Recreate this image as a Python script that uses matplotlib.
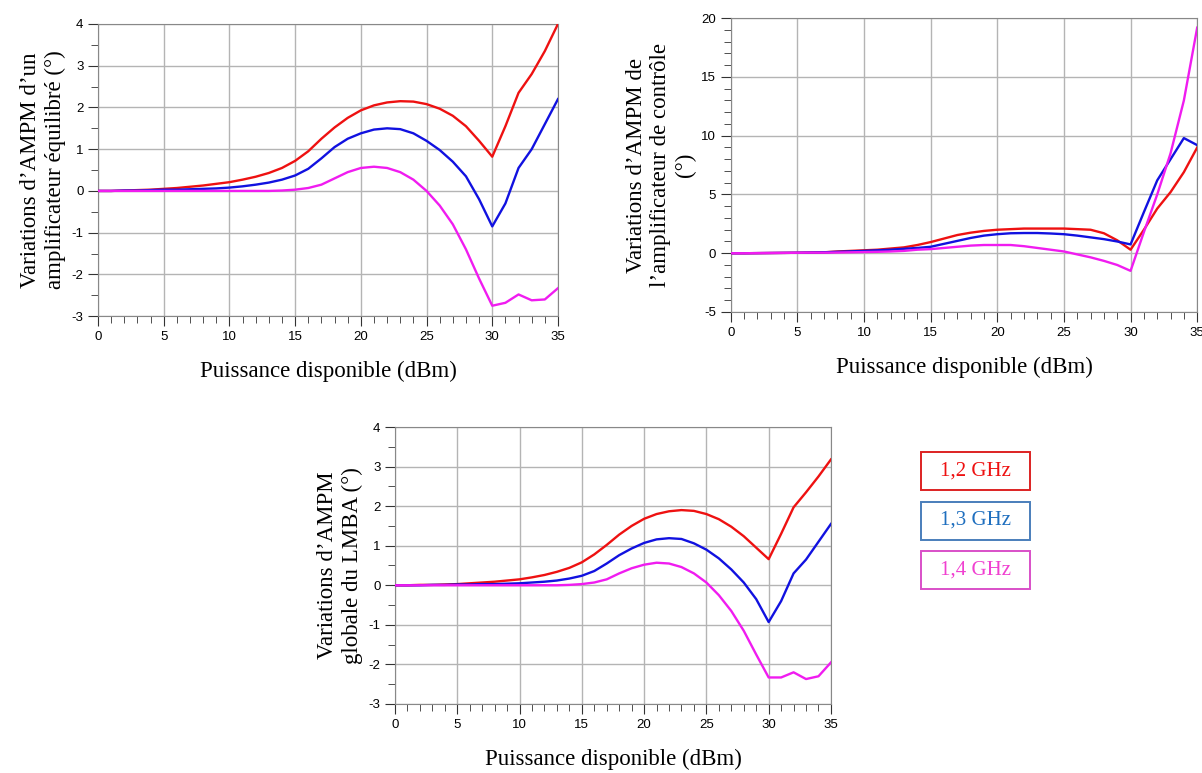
import numpy as np
import matplotlib
matplotlib.use('Agg')
from matplotlib import pyplot as plt
from matplotlib.ticker import MultipleLocator
from matplotlib.patches import Rectangle

plt.rcParams['axes.unicode_minus'] = False

# puissance disponible (dBm)
p_dbm = list(range(0, 36))

# AMPM amplificateur equilibre
eq_12 = [0, 0, 0.01, 0.02, 0.03, 0.05, 0.07, 0.1, 0.13, 0.17, 0.21, 0.27, 0.34, 0.43, 0.55, 0.72,
         0.95, 1.25, 1.52, 1.75, 1.93, 2.05, 2.12, 2.15, 2.14, 2.08, 1.97, 1.8, 1.55, 1.2, 0.82,
         1.55, 2.35, 2.8, 3.35, 4.0]
eq_13 = [0, 0, 0.01, 0.01, 0.02, 0.03, 0.03, 0.04, 0.05, 0.06, 0.08, 0.11, 0.15, 0.2, 0.27, 0.37,
         0.53, 0.78, 1.05, 1.25, 1.38, 1.47, 1.5, 1.48, 1.38, 1.2, 0.98, 0.7, 0.35, -0.2, -0.85,
         -0.3, 0.55, 1.0, 1.6, 2.2]
eq_14 = [0, 0, 0, 0, 0, 0, 0, 0, 0, 0, 0, 0, 0, 0, 0.01, 0.03,
         0.07, 0.15, 0.3, 0.45, 0.55, 0.58, 0.55, 0.45, 0.27, 0.0, -0.35, -0.8, -1.4, -2.1, -2.75,
         -2.68, -2.48, -2.62, -2.6, -2.33]

# AMPM amplificateur de controle
ct_12 = [0, 0, 0.01, 0.02, 0.03, 0.04, 0.06, 0.08, 0.15, 0.2, 0.25, 0.3, 0.4, 0.5, 0.7, 0.95,
         1.25, 1.55, 1.75, 1.9, 2.0, 2.05, 2.1, 2.1, 2.1, 2.1, 2.05, 2.0, 1.7, 1.1, 0.3,
         2.0, 3.8, 5.2, 6.9, 9.0]
ct_13 = [0, 0, 0.01, 0.02, 0.03, 0.04, 0.06, 0.08, 0.12, 0.16, 0.2, 0.25, 0.3, 0.38, 0.45, 0.55,
         0.8, 1.05, 1.3, 1.5, 1.62, 1.7, 1.72, 1.72, 1.68, 1.62, 1.5, 1.35, 1.2, 1.0, 0.75,
         3.5, 6.2, 8.0, 9.8, 9.2]
ct_14 = [0, 0, 0.01, 0.02, 0.03, 0.04, 0.05, 0.05, 0.06, 0.08, 0.1, 0.12, 0.15, 0.2, 0.3, 0.35,
         0.45, 0.55, 0.65, 0.7, 0.7, 0.7, 0.6, 0.45, 0.3, 0.15, -0.1, -0.35, -0.65, -1.0, -1.5,
         1.8, 5.0, 8.5, 13.0, 19.2]

# AMPM globale du LMBA
gl_12 = [0, 0, 0.01, 0.01, 0.02, 0.03, 0.05, 0.07, 0.09, 0.12, 0.15, 0.2, 0.26, 0.34, 0.44, 0.58,
         0.78, 1.02, 1.28, 1.5, 1.68, 1.8, 1.87, 1.9, 1.88, 1.8, 1.67, 1.48, 1.24, 0.95, 0.66,
         1.3, 1.97, 2.35, 2.75, 3.18]
gl_13 = [0, 0, 0, 0.01, 0.01, 0.02, 0.02, 0.03, 0.03, 0.04, 0.05, 0.07, 0.09, 0.12, 0.17, 0.24,
         0.36, 0.55, 0.76, 0.93, 1.07, 1.16, 1.19, 1.17, 1.06, 0.9, 0.68, 0.4, 0.07, -0.35, -0.93,
         -0.4, 0.3, 0.65, 1.1, 1.55]
gl_14 = [0, 0, 0, 0, 0, 0, 0, 0, 0, 0, 0, 0, 0, 0, 0.01, 0.03,
         0.07, 0.15, 0.3, 0.43, 0.52, 0.57, 0.55, 0.46, 0.3, 0.07, -0.25, -0.65, -1.15, -1.75, -2.33,
         -2.33, -2.2, -2.37, -2.3, -1.95]

freqs = ['1,2 GHz', '1,3 GHz', '1,4 GHz']
cols = ['#ee1111', '#1111e0', '#f01cf0']

W, H = 1202, 773
fig = plt.figure(figsize=(W / 100, H / 100), dpi=100)

def setup(ax, series, ylim, ymaj, ymin, ylabel):
    for s, c in zip(series, cols):
        ax.plot(p_dbm, s, color=c, lw=1.7, zorder=3)
    ax.set_xlim(0, 35)
    ax.set_ylim(*ylim)
    ax.xaxis.set_major_locator(MultipleLocator(5))
    ax.xaxis.set_minor_locator(MultipleLocator(1))
    ax.yaxis.set_major_locator(MultipleLocator(ymaj))
    ax.yaxis.set_minor_locator(MultipleLocator(ymin))
    ax.grid(True, which='major', color='#b4b4b4', lw=1)
    ax.tick_params(which='both', direction='out', labelsize=9.5, colors='#333333',
                   labelcolor='black')
    ax.tick_params(which='major', length=7)
    ax.tick_params(which='minor', length=5)
    for sp in ax.spines.values():
        sp.set_color('#888888')
    for lab in ax.get_xticklabels() + ax.get_yticklabels():
        lab.set_family('Liberation Sans')
    ax.set_xlabel('Puissance disponible (dBm)', family='Liberation Serif', fontsize=16.5,
                  labelpad=13)
    ax.set_ylabel(ylabel, family='Liberation Serif', fontsize=16.5, linespacing=1.2)

ax1 = fig.add_axes([0.0815, 0.591, 0.3827, 0.378])
setup(ax1, [eq_12, eq_13, eq_14], (-3, 4), 1, 0.5,
      'Variations d\u2019AMPM d\u2019un\namplificateur \u00e9quilibr\u00e9 (\u00b0)')

ax2 = fig.add_axes([0.608, 0.5964, 0.388, 0.380])
setup(ax2, [ct_12, ct_13, ct_14], (-5, 20), 5, 1,
      'Variations d\u2019AMPM de\nl\u2019amplificateur de contr\u00f4le\n(\u00b0)')

ax3 = fig.add_axes([0.3286, 0.0893, 0.3627, 0.3583])
setup(ax3, [gl_12, gl_13, gl_14], (-3, 4), 1, 0.5,
      'Variations d\u2019AMPM\nglobale du LMBA (\u00b0)')

# legende en boites
box_edge = ['#dd2222', '#4a7ebb', '#d94fc8']
txt_col = ['#ee1111', '#1f6fbf', '#f040d0']
for i, (f, ec, tc) in enumerate(zip(freqs, box_edge, txt_col)):
    top = 452 + 49.5 * i
    fig.patches.append(Rectangle((921 / W, 1 - (top + 38) / H), 109 / W, 38 / H,
                                 transform=fig.transFigure, fc='white', ec=ec, lw=1.4))
    fig.text(975.5 / W, 1 - (top + 19) / H, f, family='Liberation Serif', fontsize=15,
             color=tc, ha='center', va='center')

fig.savefig('out.png', dpi=100)
